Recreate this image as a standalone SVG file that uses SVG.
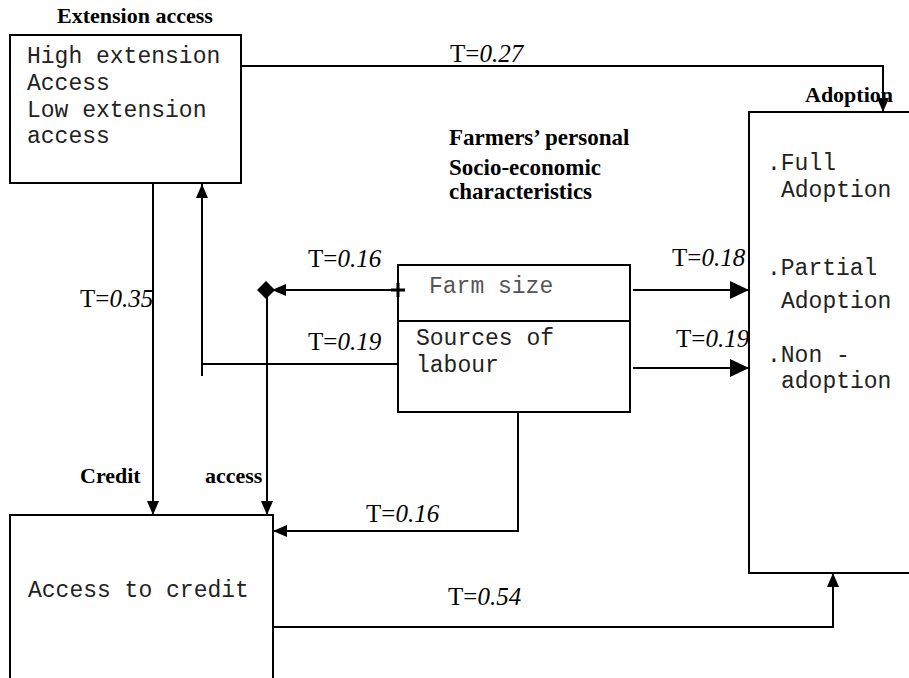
<svg xmlns="http://www.w3.org/2000/svg" width="909" height="678" viewBox="0 0 909 678">
<style>
.box{fill:#fff;stroke:#000;stroke-width:2}
.ln{fill:none;stroke:#000;stroke-width:2}
.mono{font-family:"Liberation Mono","Courier New",monospace;font-size:23px;fill:#222}
.bold{font-family:"Liberation Serif","Times New Roman",serif;font-size:22px;font-weight:bold;fill:#000}
.big{font-size:23px}
.lbl{font-family:"Liberation Serif","Times New Roman",serif;font-size:25px;fill:#000}
.it{font-style:italic}
</style>
<defs>
<marker id="a" markerUnits="userSpaceOnUse" markerWidth="14" markerHeight="12" refX="14" refY="6" orient="auto"><path d="M0,0 L14,6 L0,12 z" fill="#000"/></marker>
<marker id="big" markerUnits="userSpaceOnUse" markerWidth="19" markerHeight="18" refX="19" refY="9" orient="auto"><path d="M0,0 L19,9 L0,18 z" fill="#000"/></marker>
</defs>
<rect width="909" height="678" fill="#fff"/>

<g id="extension">
<text class="bold" x="57" y="23">Extension access</text>
<rect class="box" x="10" y="35" width="231" height="148"/>
<text class="mono" x="27" y="63">High extension</text>
<text class="mono" x="27" y="90">Access</text>
<text class="mono" x="27" y="117">Low extension</text>
<text class="mono" x="27" y="143">access</text>
</g>

<g id="adoption">
<rect class="box" x="749" y="112" width="200" height="461"/>
<text class="bold" x="805" y="102">Adoption</text>
<text class="mono" x="767" y="170">.Full</text>
<text class="mono" x="781" y="197">Adoption</text>
<text class="mono" x="767" y="275">.Partial</text>
<text class="mono" x="781" y="308">Adoption</text>
<text class="mono" x="767" y="362">.Non -</text>
<text class="mono" x="781" y="388">adoption</text>
</g>

<g id="farmers">
<text class="bold big" x="449" y="145">Farmers’ personal</text>
<text class="bold big" x="449" y="175">Socio-economic</text>
<text class="bold big" x="449" y="199">characteristics</text>
<rect class="box" x="398" y="265" width="232" height="147"/>
<line class="ln" x1="398" y1="321" x2="630" y2="321"/>
<text class="mono" x="429" y="293" style="fill:#555">Farm size</text>
<text class="mono" x="416" y="345">Sources of</text>
<text class="mono" x="416" y="372">labour</text>
</g>

<g id="credit">
<text class="bold" x="80" y="483">Credit</text>
<text class="bold" x="205" y="483">access</text>
<rect class="box" x="10" y="515" width="263" height="200"/>
<text class="mono" x="28" y="597">Access to credit</text>
</g>

<g id="connectors">
<path class="ln" d="M241 66 H883 V112" marker-end="url(#a)"/>
<text class="lbl" x="450" y="62">T=<tspan class="it">0.27</tspan></text>

<path class="ln" d="M153 183 V515" marker-end="url(#a)"/>
<text class="lbl" x="80" y="307">T=<tspan class="it">0.35</tspan></text>

<path class="ln" d="M398 364 H202"/>
<path class="ln" d="M202 376 V184" marker-end="url(#a)"/>
<text class="lbl" x="308" y="350">T=<tspan class="it">0.19</tspan></text>

<path class="ln" d="M398 290 H272" marker-end="url(#a)"/>
<path d="M391 290 H405 M398 283 V297" stroke="#000" stroke-width="3"/>
<path d="M257 290 L266 281 L275 290 L266 299 z" fill="#000"/>
<path class="ln" d="M267 296 V515" marker-end="url(#a)"/>
<text class="lbl" x="308" y="267">T=<tspan class="it">0.16</tspan></text>

<path class="ln" d="M633 290 H749" marker-end="url(#big)"/>
<text class="lbl" x="672" y="266">T=<tspan class="it">0.18</tspan></text>
<path class="ln" d="M633 368 H749" marker-end="url(#big)"/>
<text class="lbl" x="676" y="347">T=<tspan class="it">0.19</tspan></text>

<path class="ln" d="M518 412 V531 H273" marker-end="url(#a)"/>
<text class="lbl" x="366" y="522">T=<tspan class="it">0.16</tspan></text>

<path class="ln" d="M273 627 H833 V573" marker-end="url(#a)"/>
<text class="lbl" x="448" y="605">T=<tspan class="it">0.54</tspan></text>
</g>
</svg>
